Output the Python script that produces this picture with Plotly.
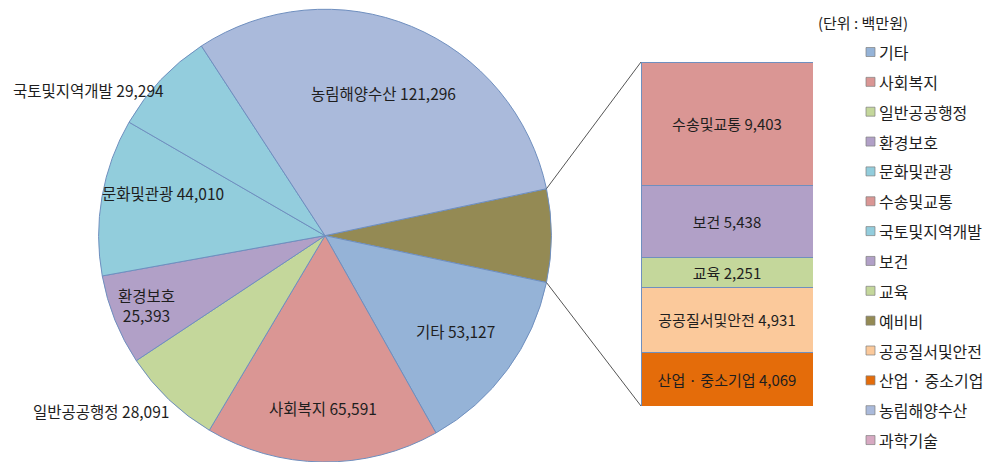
import math
import plotly.graph_objects as go

# ---------------- data ----------------
pie_labels = ["예비비", "기타", "사회복지", "일반공공행정", "환경보호", "문화및관광", "국토및지역개발", "농림해양수산"]
bar_labels = ["산업 · 중소기업", "공공질서및안전", "교육", "보건", "수송및교통"]
bar_values = [4069, 4931, 2251, 5438, 9403]
pie_values_main = [53127, 65591, 28091, 25393, 44010, 29294, 121296]
pie_values = [sum(bar_values)] + pie_values_main

legend_labels = ["기타", "사회복지", "일반공공행정", "환경보호", "문화및관광", "수송및교통", "국토및지역개발",
                 "보건", "교육", "예비비", "공공질서및안전", "산업 · 중소기업", "농림해양수산", "과학기술"]
unit_label = "(단위 : 백만원)"

# ---------------- style ----------------
W, H = 993, 462
FONT = "Noto Sans CJK KR"
TXT = "#1E1E1E"
colors = {
    "예비비": "#948A54", "기타": "#95B3D7", "사회복지": "#DA9694", "일반공공행정": "#C4D79B",
    "환경보호": "#B1A0C7", "문화및관광": "#92CDDC", "국토및지역개발": "#93CDDD", "농림해양수산": "#AABADB",
    "산업 · 중소기업": "#E46C0A", "공공질서및안전": "#FBC99B", "교육": "#C4D79B", "보건": "#B1A0C7",
    "수송및교통": "#DA9694", "과학기술": "#D7A9C2",
}
line_col = "#6F8FBF"

pie_dom_y = [0.0, 0.98]
R = (pie_dom_y[1] - pie_dom_y[0]) * H / 2.0
cx_px = 325.0
cy_px = H - (pie_dom_y[0] + pie_dom_y[1]) / 2 * H
pie_dom_x = [(cx_px - R) / W, (cx_px + R) / W]

total = sum(pie_values)
first_span = pie_values[0] / total * 360.0
start_deg = first_span / 2.0          # ccw from east where first slice begins
rotation = 90.0 - start_deg

bar_dom_x = [641 / W, 813 / W]
bar_dom_y = [(H - 406) / H, (H - 62) / H]

fig = go.Figure()
fig.add_trace(go.Pie(
    labels=pie_labels, values=pie_values, sort=False, direction="clockwise",
    rotation=rotation, textinfo="none", hoverinfo="label+value",
    marker=dict(colors=[colors[l] for l in pie_labels], line=dict(color=line_col, width=1)),
    domain=dict(x=pie_dom_x, y=pie_dom_y), showlegend=False,
))

for lab, val in zip(bar_labels, bar_values):
    fig.add_trace(go.Bar(
        x=[0], y=[val], width=1, name=lab, showlegend=False,
        marker=dict(color=colors[lab], line=dict(color=line_col, width=1)),
        text=[f"{lab} {val:,}"], textposition="inside", insidetextanchor="middle",
        textangle=0, textfont=dict(family=FONT, size=15, color=TXT),
        constraintext="none", cliponaxis=False,
    ))

fig.update_layout(
    barmode="stack",
    xaxis=dict(domain=bar_dom_x, range=[-0.5, 0.5], visible=False, fixedrange=True),
    yaxis=dict(domain=bar_dom_y, range=[0, sum(bar_values)], visible=False, fixedrange=True),
    width=W, height=H, margin=dict(l=0, r=0, t=0, b=0),
    paper_bgcolor="white", plot_bgcolor="rgba(0,0,0,0)",
    uniformtext=dict(minsize=15, mode="show"),
    font=dict(family=FONT, size=15, color=TXT),
)

# pie labels: (radius fraction, px dx, px dy, line break)
label_style = {
    "기타": (0.715, 0, 0, False),
    "사회복지": (0.76, 0, 0, False),
    "일반공공행정": (1.0, -68, 11, False),
    "환경보호": (0.85, 0, -2, True),
    "문화및관광": (0.75, 5, -13, False),
    "국토및지역개발": (1.0, -72, 10, False),
    "농림해양수산": (0.68, 0, 0, False),
}

def to_paper(px, py):
    return px / W, (H - py) / H

cum = 0.0
for lab, val in zip(pie_labels, pie_values):
    a0 = start_deg - cum / total * 360.0
    mid = a0 - val / total * 180.0
    cum += val
    if lab not in label_style:
        continue
    f, dx, dy, br = label_style[lab]
    px = cx_px + f * R * math.cos(math.radians(mid)) + dx
    py = cy_px - f * R * math.sin(math.radians(mid)) + dy
    x, y = to_paper(px, py)
    txt = f"{lab}<br>{val:,}" if br else f"{lab} {val:,}"
    fig.add_annotation(x=x, y=y, xref="paper", yref="paper", text=txt, showarrow=False,
                       font=dict(family=FONT, size=15.5, color=TXT), align="center",
                       xanchor="center", yanchor="middle")

# connector lines from the grouped slice edges to the bar corners
for ang, by in [(start_deg, bar_dom_y[1]), (start_deg - first_span, bar_dom_y[0])]:
    px = cx_px + R * math.cos(math.radians(ang))
    py = cy_px - R * math.sin(math.radians(ang))
    x0, y0 = to_paper(px, py)
    fig.add_shape(type="line", xref="paper", yref="paper", x0=x0, y0=y0, x1=bar_dom_x[0], y1=by,
                  line=dict(color="#555555", width=1))

# manual legend
fig.add_annotation(x=816 / W, y=(H - 22) / H, xref="paper", yref="paper", text=unit_label,
                   showarrow=False, xanchor="left", yanchor="middle",
                   font=dict(family=FONT, size=15, color=TXT))
row0, step = 52.0, 29.85
for i, lab in enumerate(legend_labels):
    yc = row0 + i * step
    fig.add_shape(type="rect", xref="paper", yref="paper",
                  x0=866 / W, x1=875 / W, y0=(H - yc - 4.5) / H, y1=(H - yc + 4.5) / H,
                  fillcolor=colors[lab], line=dict(color="#7F7F7F", width=0.7))
    fig.add_annotation(x=877 / W, y=(H - yc) / H, xref="paper", yref="paper", text=lab,
                       showarrow=False, xanchor="left", yanchor="middle",
                       font=dict(family=FONT, size=16, color=TXT))

fig.write_html("out.html")
